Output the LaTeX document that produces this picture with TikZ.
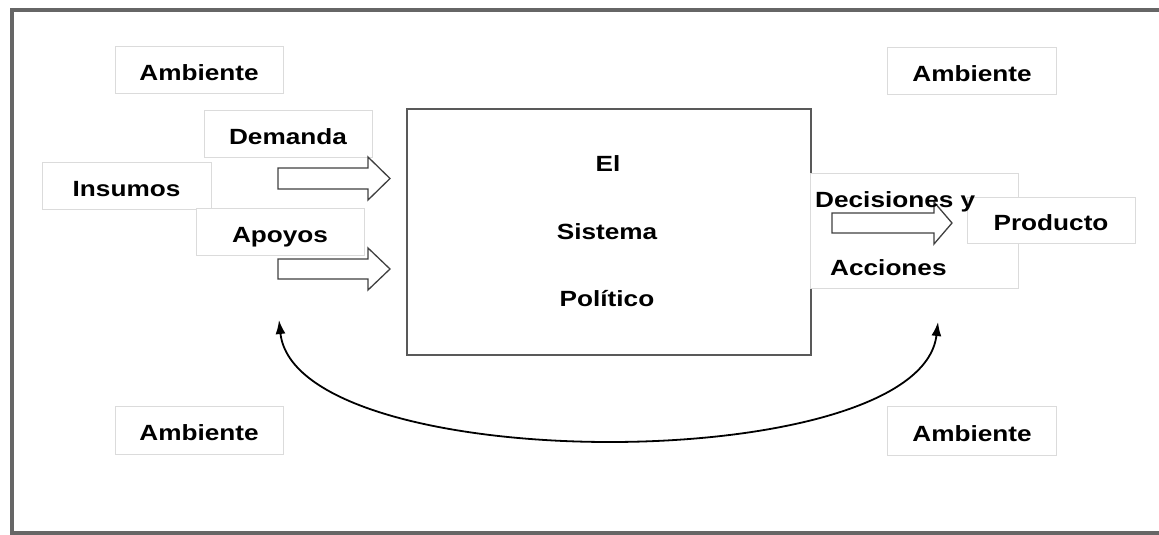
\documentclass[tikz,border=0pt]{standalone}
\usepackage{fontspec}
\setmainfont{Liberation Sans}[FakeStretch=1.19]
\usetikzlibrary{shapes.arrows,arrows.meta}
\tikzset{
  lbl/.style={draw=black!14, line width=0.8pt, fill=white, inner sep=0pt,
              text height=21pt, text depth=0pt,
              font=\fontsize{22}{26}\selectfont\bfseries},
  blockarrow/.style={draw=black!75, line width=1.3pt, fill=white},
  frame/.style={draw=black!60, line width=3.2pt},
  sysbox/.style={draw=black!65, line width=2pt, fill=white, inner sep=0pt},
  txt/.style={inner sep=0pt, font=\fontsize{22}{26}\selectfont\bfseries},
}
\begin{document}
\begin{tikzpicture}[x=1pt,y=-1pt]
\useasboundingbox (0,0) rectangle (1159,535);
% outer frame (open on the right)
\coordinate (fTR) at (1165,10);
\coordinate (fTL) at (12,10);
\coordinate (fBL) at (12,533);
\coordinate (fBR) at (1165,533);
\draw[frame] (fTR) -- (fTL) -- (fBL) -- (fBR);

% Ambiente boxes
\node[lbl, minimum width=168pt, minimum height=47pt] (a1) at (199,70) {Ambiente};
\node[lbl, minimum width=169pt, minimum height=47pt] (a2) at (972,71) {Ambiente};
\node[lbl, minimum width=168pt, minimum height=48pt] (a3) at (199,430) {Ambiente};
\node[lbl, minimum width=169pt, minimum height=49pt] (a4) at (972,431) {Ambiente};

% input labels
\node[lbl, minimum width=169pt, minimum height=47pt] (ins) at (126.5,185.5) {Insumos};
\node[lbl, minimum width=168pt, minimum height=47pt] (dem) at (288,133.5) {Demanda};
\node[lbl, minimum width=168pt, minimum height=47pt] (apo) at (280,231.5) {Apoyos};

% system box
\node[sysbox, minimum width=404pt, minimum height=246pt] (sys) at (609,232) {};
\node[txt] (t1) at (608,164) {El};
\node[txt] (t2) at (607,232) {Sistema};
\node[txt] (t3) at (607,299) {Político};

% block arrows into the system
\draw[blockarrow] (278,168) -- (368,168) -- (368,157) -- (390,178.5) -- (368,200) -- (368,189) -- (278,189) -- cycle;
\draw[blockarrow] (278,259) -- (368,259) -- (368,248) -- (390,269) -- (368,290) -- (368,279) -- (278,279) -- cycle;

% decisiones y acciones
\node[lbl, minimum width=208pt, minimum height=115pt] (dec) at (914,230.5) {};
\draw[blockarrow, fill=none] (832,213) -- (934,213) -- (934,202) -- (952,223) -- (934,244) -- (934,233) -- (832,233) -- cycle;
\node[lbl, minimum width=168pt, minimum height=46pt] (prod) at (1051,220) {Producto};
\node[txt, anchor=west] (dec1) at (815,202) {Decisiones y};
\node[txt, anchor=west] (dec2) at (830,268) {Acciones};

% feedback curve
\coordinate (fbL) at (279,320);
\coordinate (fbR) at (938,322);
\draw[line width=1.8pt, {Latex[length=14pt,width=10pt]}-{Latex[length=14pt,width=10pt]}]
  (fbL) .. controls (296,478) and (920,478) .. (fbR);
\end{tikzpicture}
\end{document}
